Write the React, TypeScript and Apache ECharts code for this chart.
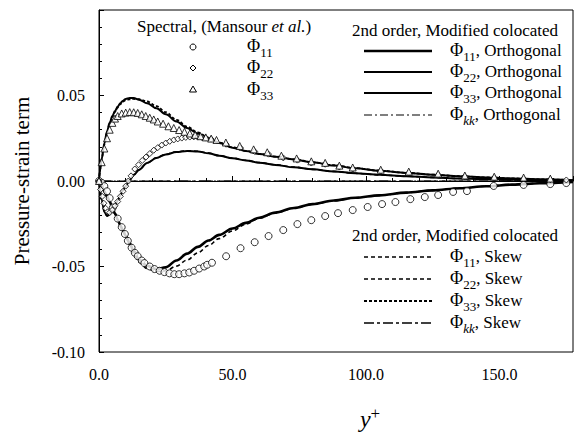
import React, { useEffect, useRef } from "react";
import * as echarts from "echarts";

const SERIF = "Liberation Serif";

// y+ grid for the model curves
const MODEL_Y = [0, 0.5, 1, 2, 3, 4, 5, 6, 7, 8, 9, 10, 11.5, 13, 15, 18, 21.5, 25, 29, 33, 37, 41, 45, 50, 55, 60, 66, 73, 80, 88, 96, 105, 115, 125, 135, 145, 155, 165, 177.5];

const PHI11_ORTH = [0, -0.0015, -0.003, -0.006, -0.009, -0.012, -0.0155, -0.019, -0.0225, -0.026, -0.029, -0.032, -0.0365, -0.041, -0.046, -0.0495, -0.0515, -0.0505, -0.0465, -0.0425, -0.0385, -0.0348, -0.0315, -0.0278, -0.0245, -0.0215, -0.0185, -0.0158, -0.0135, -0.0114, -0.0098, -0.0084, -0.0068, -0.0055, -0.0042, -0.0031, -0.0021, -0.0013, -0.0005];
const PHI22_ORTH = [0, -0.006, -0.011, -0.018, -0.0205, -0.0195, -0.017, -0.0145, -0.0115, -0.0085, -0.0055, -0.003, 0.0005, 0.0035, 0.0065, 0.0105, 0.0135, 0.0155, 0.017, 0.0176, 0.0173, 0.0162, 0.0148, 0.0133, 0.012, 0.0107, 0.0094, 0.008, 0.0068, 0.0056, 0.0045, 0.0036, 0.0028, 0.0021, 0.0015, 0.0011, 0.0007, 0.0004, 0.0002];
const PHI33_ORTH = [0, 0.007, 0.013, 0.022, 0.029, 0.034, 0.038, 0.041, 0.0435, 0.0455, 0.047, 0.048, 0.0486, 0.0485, 0.0475, 0.0455, 0.0425, 0.039, 0.0348, 0.031, 0.0278, 0.025, 0.0222, 0.0195, 0.0175, 0.0158, 0.0142, 0.0126, 0.0109, 0.0091, 0.0074, 0.006, 0.0047, 0.0037, 0.0028, 0.0021, 0.0015, 0.001, 0.0005];

const PHI11_SKEW = [0, -0.0015, -0.003, -0.006, -0.009, -0.0125, -0.016, -0.0195, -0.023, -0.0265, -0.0298, -0.033, -0.0375, -0.0425, -0.0475, -0.0512, -0.053, -0.0525, -0.0498, -0.0462, -0.042, -0.0377, -0.0337, -0.0292, -0.0252, -0.0218, -0.0187, -0.0159, -0.0136, -0.0115, -0.0098, -0.0084, -0.0068, -0.0055, -0.0042, -0.0031, -0.0021, -0.0013, -0.0005];
const PHI22_SKEW = [0, -0.006, -0.011, -0.0178, -0.0203, -0.0193, -0.0168, -0.0143, -0.0113, -0.0083, -0.0053, -0.0028, 0.0007, 0.0037, 0.0067, 0.0106, 0.0136, 0.0156, 0.0171, 0.0177, 0.0174, 0.0163, 0.0149, 0.0134, 0.0121, 0.0108, 0.0095, 0.0081, 0.0068, 0.0056, 0.0045, 0.0036, 0.0028, 0.0021, 0.0015, 0.0011, 0.0007, 0.0004, 0.0002];
const PHI33_SKEW = [0, 0.007, 0.013, 0.0215, 0.0285, 0.0335, 0.0375, 0.0405, 0.043, 0.045, 0.0465, 0.0473, 0.0478, 0.048, 0.0478, 0.0465, 0.0438, 0.0402, 0.0358, 0.0318, 0.0284, 0.0254, 0.0225, 0.0197, 0.0176, 0.0159, 0.0143, 0.0127, 0.011, 0.0092, 0.0075, 0.0061, 0.0048, 0.0037, 0.0028, 0.0021, 0.0015, 0.001, 0.0005];

const PHIKK_Y = [0, 177.5];
const PHIKK_ORTH = [0, 0];
const PHIKK_SKEW = [0, 0];

// Spectral data (Mansour et al.)
const SPEC11_Y = [0, 1, 2, 3, 4, 5.2, 7, 8.5, 9.7, 10.8, 12.2, 13.4, 14.5, 16, 17, 19, 20.8, 22.7, 24.5, 26.4, 28.2, 30, 32, 33.8, 35.6, 37.5, 39.4, 40.5, 42.3, 47.6, 53, 58.3, 63.5, 69, 74.3, 79.5, 84.7, 89.5, 95, 100.6, 106, 111, 116.6, 122, 127, 132.6, 137.8, 147.8, 159, 169, 175];
const SPEC11 = [0, -0.001, -0.003, -0.006, -0.01, -0.0155, -0.022, -0.027, -0.031, -0.035, -0.039, -0.042, -0.044, -0.0465, -0.048, -0.05, -0.0515, -0.0525, -0.0533, -0.054, -0.0545, -0.0545, -0.054, -0.0535, -0.0525, -0.0512, -0.05, -0.049, -0.0478, -0.044, -0.0393, -0.0358, -0.0322, -0.0287, -0.0252, -0.0229, -0.0205, -0.0188, -0.017, -0.0152, -0.0135, -0.0123, -0.0106, -0.0094, -0.0082, -0.0064, -0.0059, -0.0029, -0.0023, -0.0018, -0.0012];

const SPEC22_Y = [0, 0.6, 1.2, 1.8, 2.5, 3.2, 4, 5, 6, 7, 8, 9, 10, 11, 12, 13.4, 14.8, 16.2, 17.6, 19, 20.5, 22, 23.5, 25, 26.5, 28, 29.5, 31, 32.5, 34, 35.5, 37, 38.5, 40, 42, 47.6, 53, 58.3, 63.5, 69, 74.3, 79.5, 84.7, 90, 95, 105.5, 116, 127, 137, 148, 159, 169, 175];
const SPEC22 = [0, -0.005, -0.009, -0.013, -0.016, -0.018, -0.0185, -0.017, -0.0145, -0.012, -0.009, -0.006, -0.003, 0, 0.003, 0.007, 0.0095, 0.012, 0.014, 0.016, 0.018, 0.0195, 0.021, 0.0222, 0.0232, 0.024, 0.0246, 0.0251, 0.0255, 0.0257, 0.0258, 0.0257, 0.0255, 0.0251, 0.0245, 0.0215, 0.0193, 0.0173, 0.0157, 0.0135, 0.0122, 0.0105, 0.0098, 0.0082, 0.007, 0.0058, 0.0047, 0.0036, 0.0025, 0.0018, 0.0012, 0.0008, 0.0006];

const SPEC33_Y = [0, 1, 2, 3, 4, 5, 6, 7, 8.5, 10, 11.5, 13, 14.5, 16, 17.5, 19, 20.5, 22, 24, 26, 28, 30, 32, 34, 36, 38, 40, 42, 44, 47.5, 52.7, 57.9, 63, 68.3, 74, 79.5, 84.7, 90, 95, 105.5, 116, 127, 137, 148, 159, 169];
const SPEC33 = [0, 0.011, 0.019, 0.025, 0.03, 0.034, 0.0365, 0.038, 0.0395, 0.04, 0.0403, 0.0402, 0.0398, 0.039, 0.038, 0.037, 0.036, 0.0348, 0.0335, 0.032, 0.031, 0.0298, 0.0288, 0.0278, 0.027, 0.0262, 0.0255, 0.0248, 0.024, 0.0225, 0.0205, 0.0185, 0.0168, 0.0148, 0.0132, 0.0115, 0.0106, 0.009, 0.0079, 0.0066, 0.0055, 0.0043, 0.0032, 0.0025, 0.002, 0.0014];

const X_TICK_LABELS = ["0.0", "50.0", "100.0", "150.0"];
const Y_TICK_LABELS = ["-0.10", "-0.05", "0.00", "0.05", ""];

const pairs = (xs: number[], ys: number[]) => xs.map((x, i) => [x, ys[i]]);

const lineSeries = (name: string, xs: number[], ys: number[], width: number, type: any) => ({
  type: "line",
  name,
  data: pairs(xs, ys),
  symbol: "none",
  showSymbol: false,
  smooth: 0.35,
  smoothMonotone: "x",
  lineStyle: { color: "#000", width, type },
  z: 2,
});

const scatterSeries = (name: string, xs: number[], ys: number[], symbol: string, size: number) => ({
  type: "scatter",
  name,
  data: pairs(xs, ys),
  symbol,
  symbolSize: size,
  itemStyle: { color: "#fff", borderColor: "#000", borderWidth: 1 },
  z: 5,
});

const richPhi = {
  p: { fontFamily: SERIF, fontSize: 18, fill: "#000", verticalAlign: "bottom", padding: [0, 0, 4, 0] },
  s: { fontFamily: SERIF, fontSize: 13, fill: "#000", verticalAlign: "bottom" },
  si: { fontFamily: SERIF, fontSize: 13, fontStyle: "italic", fill: "#000", verticalAlign: "bottom" },
  t: { fontFamily: SERIF, fontSize: 17, fill: "#000", verticalAlign: "bottom", padding: [0, 0, 4, 0] },
};

const phiText = (x: number, y: number, sub: string, rest: string, italicSub = false) => ({
  type: "text",
  x,
  y,
  style: {
    text: `{p|Φ}{${italicSub ? "si" : "s"}|${sub}}${rest ? `{t|${rest}}` : ""}`,
    rich: richPhi,
    verticalAlign: "middle",
    align: "left",
  },
});

const plainText = (x: number, y: number, text: string, size = 17) => ({
  type: "text",
  x,
  y,
  style: { text, fontFamily: SERIF, fontSize: size, fill: "#000", verticalAlign: "middle", align: "left" },
});

const legendLine = (y: number, width: number, dash: any) => ({
  type: "line",
  shape: { x1: 364, y1: y, x2: 432, y2: y },
  style: { stroke: "#000", lineWidth: width, lineDash: dash },
});

export default function App() {
  const ref = useRef<HTMLDivElement>(null);
  useEffect(() => {
    if (!ref.current) return;
    const chart = echarts.init(ref.current, null, { renderer: "svg" });
    const axisLabel = { fontFamily: SERIF, fontSize: 16, color: "#000" };
    const option: any = {
      animation: false,
      backgroundColor: "#fff",
      textStyle: { fontFamily: SERIF },
      grid: { left: 99, right: -1, top: 10, bottom: 80, show: true, borderColor: "#000", borderWidth: 1 },
      xAxis: {
        type: "value",
        min: 0,
        max: 177.5,
        interval: 50,
        axisLine: { lineStyle: { color: "#000", width: 1 } },
        axisTick: { inside: true, length: 5, lineStyle: { color: "#000" } },
        minorTick: { show: true, splitNumber: 5, length: 3, lineStyle: { color: "#000" } },
        splitLine: { show: false },
        axisLabel: { ...axisLabel, margin: 14, formatter: (v: number) => X_TICK_LABELS[Math.round(v / 50)] ?? "" },
      },
      yAxis: {
        type: "value",
        min: -0.1,
        max: 0.1,
        interval: 0.05,
        axisLine: { lineStyle: { color: "#000", width: 1 } },
        axisTick: { inside: true, length: 5, lineStyle: { color: "#000" } },
        minorTick: { show: true, splitNumber: 5, length: 3, lineStyle: { color: "#000" } },
        splitLine: { show: false },
        axisLabel: { ...axisLabel, margin: 14, formatter: (v: number) => Y_TICK_LABELS[Math.round((v + 0.1) / 0.05)] ?? "" },
      },
      series: [
        lineSeries("Φkk, Orthogonal", PHIKK_Y, PHIKK_ORTH, 1.2, [12, 3, 2, 3]),
        lineSeries("Φkk, Skew", PHIKK_Y, PHIKK_SKEW, 1.2, [14, 4, 3, 4]),
        lineSeries("Φ11, Orthogonal", MODEL_Y, PHI11_ORTH, 2.6, "solid"),
        lineSeries("Φ22, Orthogonal", MODEL_Y, PHI22_ORTH, 2, "solid"),
        lineSeries("Φ33, Orthogonal", MODEL_Y, PHI33_ORTH, 2, "solid"),
        lineSeries("Φ11, Skew", MODEL_Y, PHI11_SKEW, 1.6, [4, 3]),
        lineSeries("Φ22, Skew", MODEL_Y, PHI22_SKEW, 1.6, [4, 3]),
        lineSeries("Φ33, Skew", MODEL_Y, PHI33_SKEW, 1.8, [3, 2]),
        scatterSeries("Φ11 spectral", SPEC11_Y, SPEC11, "circle", 7),
        scatterSeries("Φ22 spectral", SPEC22_Y, SPEC22, "diamond", 6),
        scatterSeries("Φ33 spectral", SPEC33_Y, SPEC33, "triangle", 7),
      ],
      graphic: [
        {
          type: "text",
          x: 22,
          y: 181,
          rotation: Math.PI / 2,
          style: { text: "Pressure-strain term", fontFamily: SERIF, fontSize: 21, fill: "#000", align: "center", verticalAlign: "middle" },
        },
        {
          type: "text",
          x: 370,
          y: 418,
          style: {
            text: "{y|y}{s|+}",
            rich: {
              y: { fontFamily: SERIF, fontSize: 24, fontStyle: "italic", fill: "#000", verticalAlign: "bottom" },
              s: { fontFamily: SERIF, fontSize: 17, fill: "#000", verticalAlign: "bottom", padding: [0, 0, 9, 0] },
            },
            align: "center",
            verticalAlign: "middle",
          },
        },
        {
          type: "text",
          x: 137,
          y: 26,
          style: {
            text: "{n|Spectral, (Mansour }{i|et al.}{n|)}",
            rich: {
              n: { fontFamily: SERIF, fontSize: 17, fill: "#000" },
              i: { fontFamily: SERIF, fontSize: 17, fontStyle: "italic", fill: "#000" },
            },
            align: "left",
            verticalAlign: "middle",
          },
        },
        { type: "circle", shape: { cx: 193, cy: 47, r: 3 }, style: { fill: "#fff", stroke: "#000", lineWidth: 1 } },
        { type: "polygon", shape: { points: [[193, 65], [196, 68], [193, 71], [190, 68]] }, style: { fill: "#fff", stroke: "#000", lineWidth: 1 } },
        { type: "polygon", shape: { points: [[193, 86], [196.5, 92], [189.5, 92]] }, style: { fill: "#fff", stroke: "#000", lineWidth: 1 } },
        phiText(247, 48, "11", ""),
        phiText(247, 69, "22", ""),
        phiText(247, 91, "33", ""),
        plainText(352, 30, "2nd order, Modified colocated"),
        legendLine(51, 2.6, null),
        legendLine(72, 2, null),
        legendLine(93, 2, null),
        legendLine(115, 1.2, [8, 3, 2, 3]),
        phiText(450, 52, "11", ", Orthogonal"),
        phiText(450, 73, "22", ", Orthogonal"),
        phiText(450, 94, "33", ", Orthogonal"),
        phiText(450, 116, "kk", ", Orthogonal", true),
        plainText(352, 235, "2nd order, Modified colocated"),
        legendLine(257, 1.6, [4, 3]),
        legendLine(279, 1.6, [4, 3]),
        legendLine(301, 1.8, [3, 2]),
        legendLine(323, 1.4, [10, 3, 3, 3]),
        phiText(450, 258, "11", ", Skew"),
        phiText(450, 280, "22", ", Skew"),
        phiText(450, 302, "33", ", Skew"),
        phiText(450, 324, "kk", ", Skew", true),
      ],
    };
    chart.setOption(option);
    return () => chart.dispose();
  }, []);
  return <div ref={ref} style={{ position: "absolute", left: 0, top: 0, width: 576, height: 432 }} />;
}
